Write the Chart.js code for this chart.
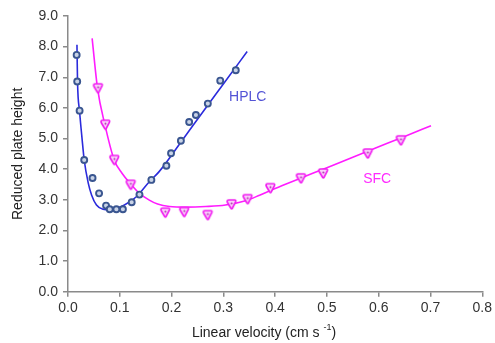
<!DOCTYPE html>
<html>
<head>
<meta charset="utf-8">
<script src="https://cdn.jsdelivr.net/npm/chart.js@4.4.1/dist/chart.umd.min.js"></script>
<style>
  html, body { margin: 0; padding: 0; background: #fff; }
</style>
</head>
<body>
<canvas id="plateChart" width="495" height="343"></canvas>
<script>
// measured HPLC points (velocity cm/s, reduced plate height)
const hplcVelocity = [0.0167, 0.0178, 0.0224, 0.0313, 0.0474, 0.060, 0.0735, 0.0806, 0.0934, 0.106,
                      0.123, 0.138, 0.161, 0.190, 0.199, 0.218, 0.234, 0.247, 0.270, 0.294, 0.324];
const hplcHeight   = [7.73, 6.86, 5.91, 4.30, 3.71, 3.21, 2.81, 2.69, 2.69, 2.69,
                      2.92, 3.17, 3.65, 4.11, 4.52, 4.93, 5.54, 5.77, 6.14, 6.89, 7.23];

// measured SFC points
const sfcVelocity = [0.0581, 0.0723, 0.0896, 0.1214, 0.188, 0.2245, 0.270, 0.316, 0.347, 0.391,
                     0.450, 0.493, 0.579, 0.643];
const sfcHeight   = [6.64, 5.45, 4.30, 3.49, 2.58, 2.60, 2.50, 2.85, 3.02, 3.38,
                     3.70, 3.86, 4.51, 4.94];

// fitted curves
const hplcFitVelocity = [0.0173, 0.0184, 0.0223, 0.0274, 0.0313, 0.0390, 0.0455, 0.0550, 0.0676, 0.0806,
                         0.093, 0.109, 0.132, 0.157, 0.176, 0.220, 0.260, 0.300, 0.346];
const hplcFitHeight   = [8.06, 6.85, 5.90, 4.95, 4.30, 3.55, 3.16, 2.83, 2.69, 2.67,
                         2.72, 2.83, 3.10, 3.59, 3.92, 4.93, 5.86, 6.78, 7.84];

const sfcFitVelocity = [0.0466, 0.057, 0.071, 0.0892, 0.1046, 0.1218, 0.138, 0.157, 0.173, 0.196,
                        0.228, 0.266, 0.304, 0.343, 0.370, 0.400, 0.450, 0.500, 0.550, 0.600, 0.650, 0.701];
const sfcFitHeight   = [8.27, 6.64, 5.47, 4.30, 3.86, 3.50, 3.21, 2.99, 2.86, 2.78,
                        2.76, 2.78, 2.83, 2.97, 3.15, 3.37, 3.71, 4.05, 4.39, 4.73, 5.07, 5.42];

// series label anchors
const seriesLabels = [
  { text: 'HPLC', x: 0.347, y: 6.36, color: '#5454d6' },
  { text: 'SFC',  x: 0.597, y: 3.67, color: '#ff2cff' }
];

const FONT = '"Liberation Sans", Arial, sans-serif';

function toXY(xs, ys) {
  return xs.map((x, i) => ({ x: x, y: ys[i] }));
}

// rounded shield-like marker with a dot inside
function makeSfcMarker() {
  const c = document.createElement('canvas');
  c.width = 13; c.height = 13;
  const g = c.getContext('2d');
  g.lineJoin = 'round';
  g.lineWidth = 1.7;
  g.strokeStyle = '#f020f0';
  g.fillStyle = '#fbd0fb';
  g.beginPath();
  g.moveTo(2, 3.5);
  g.quadraticCurveTo(2, 2, 3.5, 2);
  g.lineTo(9.5, 2);
  g.quadraticCurveTo(11, 2, 10.5, 3.8);
  g.lineTo(7.3, 10.2);
  g.quadraticCurveTo(6.5, 11.5, 5.7, 10.2);
  g.lineTo(2.4, 4.8);
  g.closePath();
  g.fill();
  g.stroke();
  g.fillStyle = '#a83aa8';
  g.beginPath();
  g.arc(6.5, 5.6, 1, 0, Math.PI * 2);
  g.fill();
  return c;
}

// axis title with superscript and series labels
const annotations = {
  id: 'annotations',
  afterDraw(chart) {
    const ctx = chart.ctx;
    const xs = chart.scales.x, ys = chart.scales.y;
    ctx.save();
    ctx.textBaseline = 'middle';
    ctx.textAlign = 'center';
    ctx.font = '14px ' + FONT;
    seriesLabels.forEach(l => {
      ctx.fillStyle = l.color;
      ctx.fillText(l.text, xs.getPixelForValue(l.x), ys.getPixelForValue(l.y));
    });

    // x axis title
    const main = 'Linear velocity (cm s ';
    const sup = '-1';
    const tail = ')';
    ctx.font = '14px ' + FONT;
    const wMain = ctx.measureText(main).width;
    const wTail = ctx.measureText(tail).width;
    ctx.font = '9px ' + FONT;
    const wSup = ctx.measureText(sup).width;
    const total = wMain + wSup + wTail;
    let x = 264 - total / 2;
    const y = 333;
    ctx.textAlign = 'left';
    ctx.fillStyle = '#222';
    ctx.font = '14px ' + FONT;
    ctx.fillText(main, x, y);
    x += wMain;
    ctx.font = '9px ' + FONT;
    ctx.fillText(sup, x, y - 5);
    x += wSup;
    ctx.font = '14px ' + FONT;
    ctx.fillText(tail, x, y);
    ctx.restore();
  }
};

const axisGrey = '#8a8a8a';

new Chart(document.getElementById('plateChart'), {
  type: 'scatter',
  data: {
    datasets: [
      {
        label: 'HPLC',
        data: toXY(hplcVelocity, hplcHeight),
        pointStyle: 'circle',
        pointRadius: 3,
        pointBorderWidth: 1.9,
        pointBorderColor: '#3a5690',
        pointBackgroundColor: '#c9d3e6',
        showLine: false
      },
      {
        label: 'SFC',
        data: toXY(sfcVelocity, sfcHeight),
        pointStyle: makeSfcMarker(),
        showLine: false
      },
      {
        label: 'HPLC fit',
        data: toXY(hplcFitVelocity, hplcFitHeight),
        showLine: true,
        pointRadius: 0,
        borderColor: '#2b2bdc',
        borderWidth: 1.6,
        cubicInterpolationMode: 'monotone'
      },
      {
        label: 'SFC fit',
        data: toXY(sfcFitVelocity, sfcFitHeight),
        showLine: true,
        pointRadius: 0,
        borderColor: '#ff1cff',
        borderWidth: 1.6,
        cubicInterpolationMode: 'monotone'
      }
    ]
  },
  options: {
    responsive: false,
    animation: false,
    layout: { padding: { left: 0, right: 10, top: 16, bottom: 0 } },
    plugins: {
      legend: { display: false },
      tooltip: { enabled: false }
    },
    scales: {
      x: {
        type: 'linear',
        min: 0,
        max: 0.8,
        afterFit(s) { s.height = 51.3; },
        ticks: {
          stepSize: 0.1,
          padding: 3,
          color: '#333',
          font: { family: FONT, size: 14 },
          callback: v => v.toFixed(1)
        },
        grid: { drawOnChartArea: false, drawTicks: true, tickLength: 5, color: axisGrey, lineWidth: 1.5 },
        border: { color: axisGrey, width: 1.5 }
      },
      y: {
        min: 0,
        max: 9,
        afterFit(s) { s.width = 68; },
        ticks: {
          stepSize: 1,
          padding: 5,
          color: '#333',
          font: { family: FONT, size: 14 },
          callback: v => v.toFixed(1)
        },
        title: {
          display: true,
          text: 'Reduced plate height',
          color: '#222',
          font: { family: FONT, size: 14 },
          padding: { top: 10, bottom: 0 }
        },
        grid: { drawOnChartArea: false, drawTicks: true, tickLength: 5, color: axisGrey, lineWidth: 1.5 },
        border: { color: axisGrey, width: 1.5 }
      }
    }
  },
  plugins: [annotations]
});
</script>
</body>
</html>
